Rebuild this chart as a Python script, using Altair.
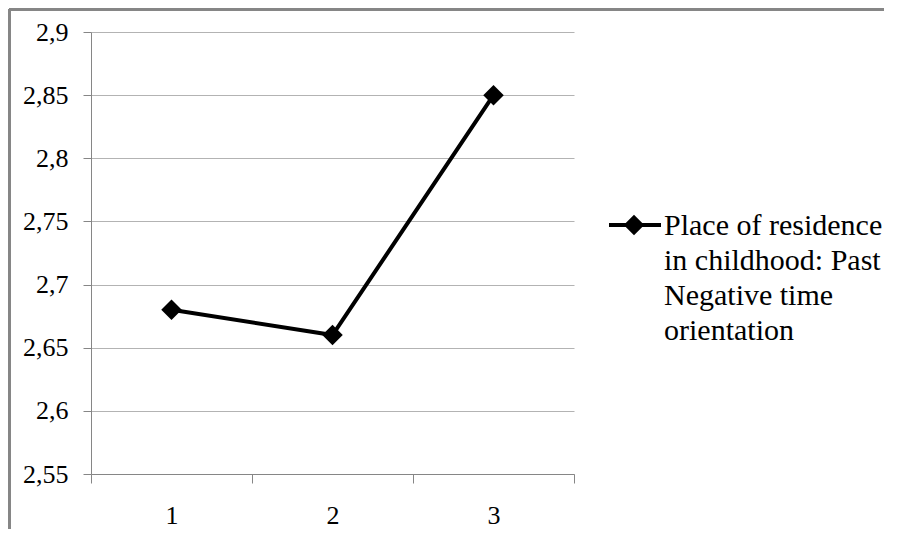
import altair as alt
import pandas as pd

# ---- data ----
categories = ["1", "2", "3"]
values = [2.68, 2.66, 2.85]
y_ticks = [2.55, 2.6, 2.65, 2.7, 2.75, 2.8, 2.85, 2.9]
legend_lines = ["Place of residence", "in childhood: Past", "Negative time", "orientation"]

df = pd.DataFrame({"cat": categories, "val": values})
one = pd.DataFrame({"k": [0]})

W, H = 483, 442
PAD_L, PAD_T, PAD_R, PAD_B = 83, 24, 310, 55
FONT = "Liberation Serif, Times New Roman, Times, serif"
GRAY = "#868686"

x_enc = alt.X(
    "cat:N",
    sort=categories,
    scale=alt.Scale(type="band", paddingInner=0, paddingOuter=0),
    axis=alt.Axis(
        title=None, labelAngle=0, tickBand="extent", tickSize=9, labelPadding=19,
        labelFontSize=26, labelFont=FONT, labelColor="black",
        domainColor=GRAY, tickColor=GRAY, domainWidth=1, tickWidth=1, grid=False,
    ),
)
y_enc = alt.Y(
    "val:Q",
    scale=alt.Scale(domain=[2.55, 2.9], nice=False, zero=False),
    axis=alt.Axis(
        title=None, values=y_ticks,
        labelExpr="replace(format(datum.value, '.2~f'), '.', ',')",
        tickSize=8, labelPadding=15, labelFontSize=26, labelFont=FONT,
        labelColor="black", domainColor=GRAY, tickColor=GRAY,
        grid=True, gridColor="#b3b3b3", gridWidth=1,
    ),
)

base = alt.Chart(df)
line = base.mark_line(color="black", strokeWidth=4).encode(x=x_enc, y=y_enc)
pts = base.mark_point(shape="diamond", filled=True, size=420, color="black", opacity=1).encode(x=x_enc, y=y_enc)

# legend
leg_y = 193
leg_rule = alt.Chart(one).mark_rule(color="black", strokeWidth=4).encode(
    x=alt.value(518), x2=alt.value(570), y=alt.value(leg_y)
)
leg_pt = alt.Chart(one).mark_point(shape="diamond", filled=True, size=420, color="black", opacity=1).encode(
    x=alt.value(543), y=alt.value(leg_y)
)
leg_text = alt.Chart(one).mark_text(
    text=legend_lines, align="left", baseline="alphabetic", font=FONT, fontSize=30,
    lineHeight=35, color="black"
).encode(x=alt.value(573), y=alt.value(203))

# outer border (top and left visible)
b_top = alt.Chart(one).mark_rule(color=GRAY, strokeWidth=3).encode(
    x=alt.value(-PAD_L + 1), x2=alt.value(W + PAD_R), y=alt.value(-PAD_T + 1.5)
)
b_left = alt.Chart(one).mark_rule(color=GRAY, strokeWidth=3).encode(
    x=alt.value(-PAD_L + 1.5), y=alt.value(-PAD_T + 1), y2=alt.value(H + PAD_B)
)

chart = alt.layer(line, pts, leg_rule, leg_pt, leg_text, b_top, b_left).properties(
    width=W, height=H,
    autosize=alt.AutoSizeParams(type="none"),
    padding={"left": PAD_L, "top": PAD_T, "right": PAD_R, "bottom": PAD_B},
    background="white",
).configure_view(stroke="transparent")

chart.save("out.html", embed_options={"renderer": "svg", "actions": False})
